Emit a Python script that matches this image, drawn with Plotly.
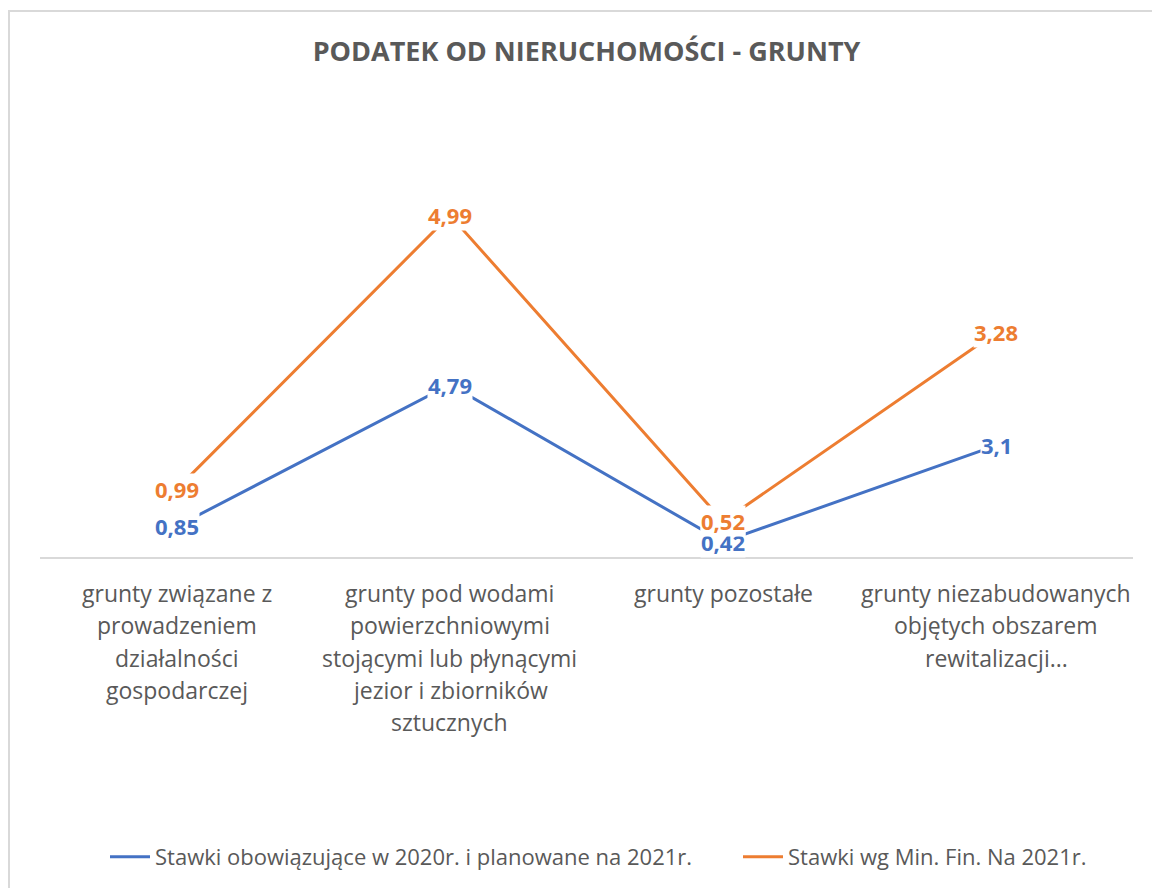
import plotly.graph_objects as go

# ---- data ----
categories = [
    "grunty związane z<br>prowadzeniem<br>działalności<br>gospodarczej",
    "grunty pod wodami<br>powierzchniowymi<br>stojącymi lub płynącymi<br>jezior i zbiorników<br>sztucznych",
    "grunty pozostałe",
    "grunty niezabudowanych<br>objętych obszarem<br>rewitalizacji...",
]
series_names = [
    "Stawki obowiązujące w 2020r. i planowane na 2021r.",
    "Stawki wg Min. Fin. Na 2021r.",
]
values_2020 = [0.85, 4.79, 0.42, 3.1]
values_minfin = [0.99, 4.99, 0.52, 3.28]
title_text = "PODATEK OD NIERUCHOMOŚCI - GRUNTY"

BLUE = "#4472C4"
ORANGE = "#ED7D31"
GRAY = "#595959"
FONT = "Open Sans"

# page body has an 8px margin -> compensate
OFF = 8
L, PW = 40 - OFF, 1093
TOP, BOT = 100 - OFF, 557 - OFF
PH = BOT - TOP

x_idx = list(range(len(categories)))

fig = go.Figure()
fig.add_trace(go.Scatter(
    x=x_idx, y=values_2020, mode="lines", name=series_names[0],
    line=dict(color=BLUE, width=3), yaxis="y", hoverinfo="skip",
    legend="legend"))
fig.add_trace(go.Scatter(
    x=x_idx, y=values_minfin, mode="lines", name=series_names[1],
    line=dict(color=ORANGE, width=3), yaxis="y2", hoverinfo="skip",
    legend="legend2"))

annotations = []
# data labels (centered on points, white box hides the line beneath)
for xi, v in zip(x_idx, values_2020):
    annotations.append(dict(
        x=xi, y=v, xref="x", yref="y", text=str(v).replace(".", ","),
        showarrow=False, bgcolor="white", borderpad=0,
        font=dict(family=FONT, size=22, color=BLUE, weight="bold")))
for xi, v in zip(x_idx, values_minfin):
    annotations.append(dict(
        x=xi, y=v, xref="x", yref="y2", text=str(v).replace(".", ","),
        showarrow=False, bgcolor="white", borderpad=0,
        font=dict(family=FONT, size=22, color=ORANGE, weight="bold")))

# category labels (one annotation per line for Excel-like line spacing)
for xi, cat in zip(x_idx, categories):
    for li, line in enumerate(cat.split("<br>")):
        annotations.append(dict(
            x=xi, y=0, xref="x", yref="paper", text=line,
            showarrow=False, yanchor="middle", yshift=-36 - 32.3 * li,
            font=dict(family=FONT, size=23, color=GRAY)))

legend_y = (BOT - (857 - OFF)) / PH
legend_common = dict(orientation="h", xref="paper", yanchor="middle",
                     y=legend_y, xanchor="left",
                     font=dict(family=FONT, size=22, color=GRAY),
                     itemwidth=40, bgcolor="rgba(0,0,0,0)")

fig.update_layout(
    width=1160, height=888,
    margin=dict(l=L, r=1160 - L - PW, t=TOP, b=888 - BOT),
    paper_bgcolor="white", plot_bgcolor="white",
    title=dict(text=title_text, x=0.5, xref="paper", xanchor="center",
               y=1 - (52 - OFF) / 888, yref="container", yanchor="middle",
               font=dict(family=FONT, size=27, color=GRAY, weight="bold")),
    xaxis=dict(range=[-0.5, len(categories) - 0.5], showticklabels=False,
               showgrid=False, zeroline=False, showline=True,
               linecolor="#d9d9d9", linewidth=2, ticks=""),
    yaxis=dict(range=[0, 12.7], visible=False, showgrid=False, zeroline=False),
    yaxis2=dict(range=[0, 6.67], visible=False, showgrid=False, zeroline=False,
                overlaying="y"),
    showlegend=True,
    legend=dict(legend_common, x=(105 - OFF - L) / PW),
    legend2=dict(legend_common, x=(738 - OFF - L) / PW),
    annotations=annotations,
    shapes=[dict(type="rect", xref="paper", yref="paper",
                 x0=(9 - OFF - L) / PW, x1=1.2, y0=-1.0,
                 y1=(BOT - (11 - OFF)) / PH,
                 line=dict(color="#d9d9d9", width=2), layer="below")],
)

fig.write_html("out.html")
